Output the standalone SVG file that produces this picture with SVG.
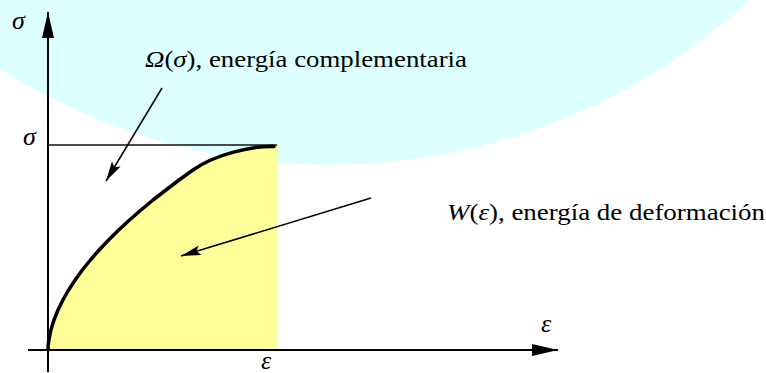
<svg xmlns="http://www.w3.org/2000/svg" width="766" height="373" viewBox="0 0 766 373">
  <defs>
    <style>
      .ax { stroke: #000; stroke-width: 2; fill: none; }
      .ln { stroke: #000; stroke-width: 1.5; fill: none; }
      .tx { font-family: "Liberation Serif", "Times New Roman", Times, "Nimbus Roman", "Noto Serif", "DejaVu Serif", serif; fill: #000; }
      .it { font-style: italic; }
    </style>
    <marker id="ah" viewBox="0 0 20 10" refX="20" refY="5" markerWidth="20" markerHeight="10" markerUnits="userSpaceOnUse" orient="auto">
      <path d="M0,0 L20,5 L0,10 L4,5 Z" fill="#000"/>
    </marker>
    <marker id="axh" viewBox="0 0 26 12" refX="26" refY="6" markerWidth="26" markerHeight="12" markerUnits="userSpaceOnUse" orient="auto">
      <path d="M0,0 L26,6 L0,12 Z" fill="#000"/>
    </marker>
  </defs>

  <rect width="766" height="373" fill="#fff"/>
  <g id="background">
    <circle cx="330" cy="-452" r="617" fill="#DDFFFF"/>
  </g>

  <g id="area-W">
    <path d="M48,350 L48.2,345 L48.9,340 L50.9,330 L54,320 L58,310 L62.9,300 L68.6,290 L75.1,280 L82.3,270 L90.4,260 L99.1,250 L108.6,240 L118.7,230 L129.5,220 L141,210 L153,200 L166,190 L179,180 L193,170 C214.5,155 250,146 278,146 L278,350 Z" fill="#FFFF99"/>
  </g>

  <g id="sigma-line">
    <line x1="48" y1="145" x2="277" y2="145" stroke="#111" stroke-width="1.5"/>
  </g>

  <g id="curve">
    <path d="M48,350 L48.2,345 L48.9,340 L50.9,330 L54,320 L58,310 L62.9,300 L68.6,290 L75.1,280 L82.3,270 L90.4,260 L99.1,250 L108.6,240 L118.7,230 L129.5,220 L141,210 L153,200 L166,190 L179,180 L193,170 C214.5,155 250,146 274,146.5" stroke="#000" stroke-width="3.5" fill="none" stroke-linecap="round" stroke-linejoin="round"/>
  </g>

  <g id="connectors">
    <line class="ax" x1="48" y1="372" x2="48" y2="12" marker-end="url(#axh)"/>
    <line class="ax" x1="28" y1="350" x2="558" y2="350" marker-end="url(#axh)"/>
    <line class="ln" x1="162" y1="88" x2="106" y2="181" marker-end="url(#ah)"/>
    <line class="ln" x1="371" y1="198" x2="181" y2="256" marker-end="url(#ah)"/>
  </g>

  <g id="labels">
    <text class="tx it" x="12" y="29" font-size="26">σ</text>
    <text class="tx it" x="23" y="145" font-size="26">σ</text>
    <text class="tx it" x="541" y="332" font-size="26">ε</text>
    <text class="tx it" x="261" y="369" font-size="26">ε</text>
    <text class="tx" x="145" y="67" font-size="23" textLength="322" lengthAdjust="spacingAndGlyphs"><tspan class="it">Ω</tspan>(<tspan class="it">σ</tspan>), energía complementaria</text>
    <text class="tx" x="447" y="220" font-size="23" textLength="318" lengthAdjust="spacingAndGlyphs"><tspan class="it">W</tspan>(<tspan class="it">ε</tspan>), energía de deformación</text>
  </g>
</svg>
